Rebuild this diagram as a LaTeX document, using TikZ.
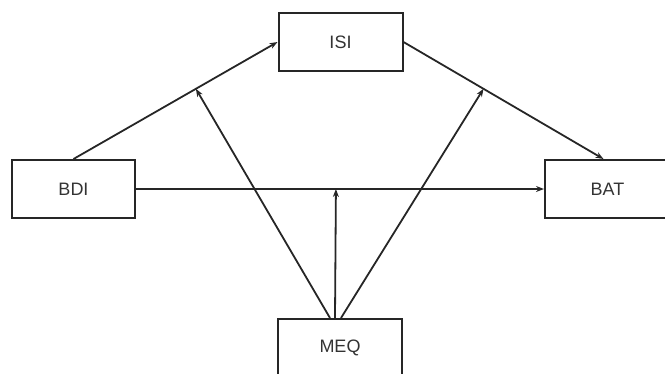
\documentclass[tikz,border=0pt]{standalone}
\usepackage{fontspec}
\setmainfont{Liberation Sans}
\usetikzlibrary{arrows.meta,calc}
\definecolor{txt}{HTML}{333333}
\begin{document}
\begin{tikzpicture}[x=1pt,y=-1pt,
  box/.style={draw=black!85,line width=2pt,minimum width=124pt,minimum height=58pt,inner sep=0pt,
    font=\fontsize{18}{20}\selectfont,text=txt},
  conn/.style={line width=1.8pt,draw=black!85,-{Stealth[length=8pt,width=6pt]}}]
\useasboundingbox (0,0) rectangle (665,373);
\clip (0,0) rectangle (665,373);
\node[box] (ISI) at (340.5,42) {ISI};
\node[box,minimum width=123pt] (BDI) at (73.5,189) {BDI};
\node[box,minimum width=125pt] (BAT) at (607.5,189) {BAT};
\node[box] (MEQ) at (340,348) {MEQ};
\draw[conn] (BDI.north) -- (ISI.west) coordinate[pos=0.6] (m1);
\draw[conn] (ISI.east) -- ([xshift=-4pt]BAT.north) coordinate[pos=0.4] (m2);
\draw[conn] (BDI.east) -- (BAT.west) coordinate[pos=0.49] (m3);
\draw[conn] ([xshift=-10pt]MEQ.north) -- (m1);
\draw[conn] ([xshift=-5pt]MEQ.north) -- (m3);
\draw[conn] ([xshift=1pt]MEQ.north) -- (m2);
\end{tikzpicture}
\end{document}
